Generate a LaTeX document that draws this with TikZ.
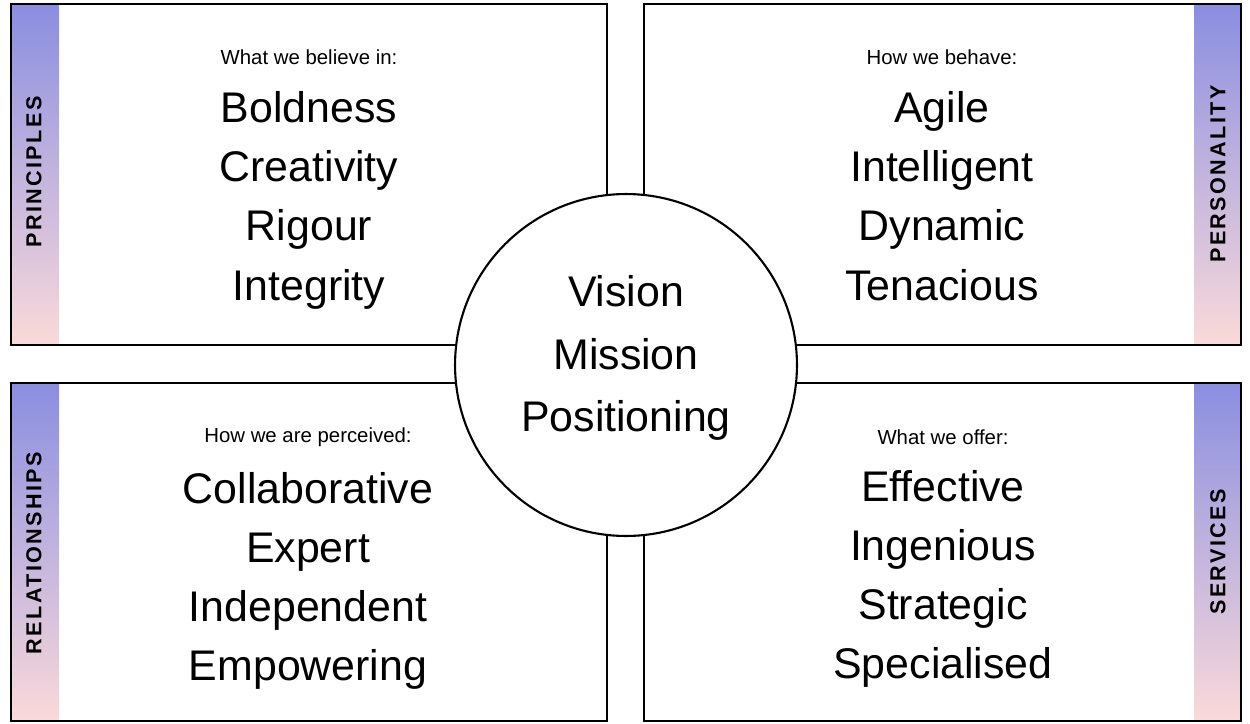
\documentclass[tikz,border=0pt]{standalone}
\usepackage{fontspec}
\setmainfont{Liberation Sans}
\newfontfamily\tagfont[LetterSpace=11,UprightFont=* Bold]{Liberation Sans}
\usetikzlibrary{positioning}

\begin{document}
\begin{tikzpicture}
[x=0.02cm,y=-0.02cm,
  boxDecorate/.style={draw=black,line width=1.2pt},%
  barDecorate/.style={top color=barTop,bottom color=barBottom,draw=none},%
  tagDecorate/.style={rotate=90,font=\tagfont\fontsize{12.3}{14}\selectfont},%
  leadDecorate/.style={font=\fontsize{11.6}{14}\selectfont},%
  wordDecorate/.style={align=center,font=\fontsize{24.4}{33.6}\selectfont},%
  hubDecorate/.style={shape=circle,draw=black,line width=1.2pt,fill=white,inner sep=0pt}]
\definecolor{barTop}{HTML}{8A8EE0}
\definecolor{barBottom}{HTML}{FADADA}
\useasboundingbox (0,0) rectangle (1250,723);
%% side bars and boxes
\foreach \bx/\by/\ex/\ey/\sx/\tx in {
  11/4/607/345/11/59, 644/4/1241/345/1194/1241,
  11/383/607/721/11/59, 644/383/1241/721/1194/1241}
{
  \fill[barDecorate] (\sx,\by) rectangle (\tx,\ey);
  \draw[boxDecorate] (\bx,\by) rectangle (\ex,\ey);
}
%% centre
\node (hub) at (626,365) [hubDecorate,minimum size=6.84cm] {};
\node (core) at (626,358) [wordDecorate,font=\fontsize{24.4}{35.7}\selectfont] {Vision\\Mission\\Positioning};
%% tags
\node (principles) at (34,172) [tagDecorate] {PRINCIPLES};
\node (personality) at (1218,174) [tagDecorate] {PERSONALITY};
\node (relationships) at (34,553) [tagDecorate] {RELATIONSHIPS};
\node (services) at (1218,552) [tagDecorate] {SERVICES};
%% quadrant texts
\node (beliefLead) at (309,57) [leadDecorate] {What we believe in:};
\node (beliefList) [wordDecorate,below=8.5pt of beliefLead] {Boldness\\Creativity\\Rigour\\Integrity};
\node (behaveLead) at (942,57) [leadDecorate] {How we behave:};
\node (behaveList) [wordDecorate,below=8.5pt of behaveLead] {Agile\\Intelligent\\Dynamic\\Tenacious};
\node (perceiveLead) at (308,437) [leadDecorate] {How we are perceived:};
\node (perceiveList) [wordDecorate,below=7.5pt of perceiveLead] {Collaborative\\Expert\\Independent\\Empowering};
\node (offerLead) at (943,437) [leadDecorate] {What we offer:};
\node (offerList) [wordDecorate,below=7.5pt of offerLead] {Effective\\Ingenious\\Strategic\\Specialised};
\end{tikzpicture}
\end{document}
